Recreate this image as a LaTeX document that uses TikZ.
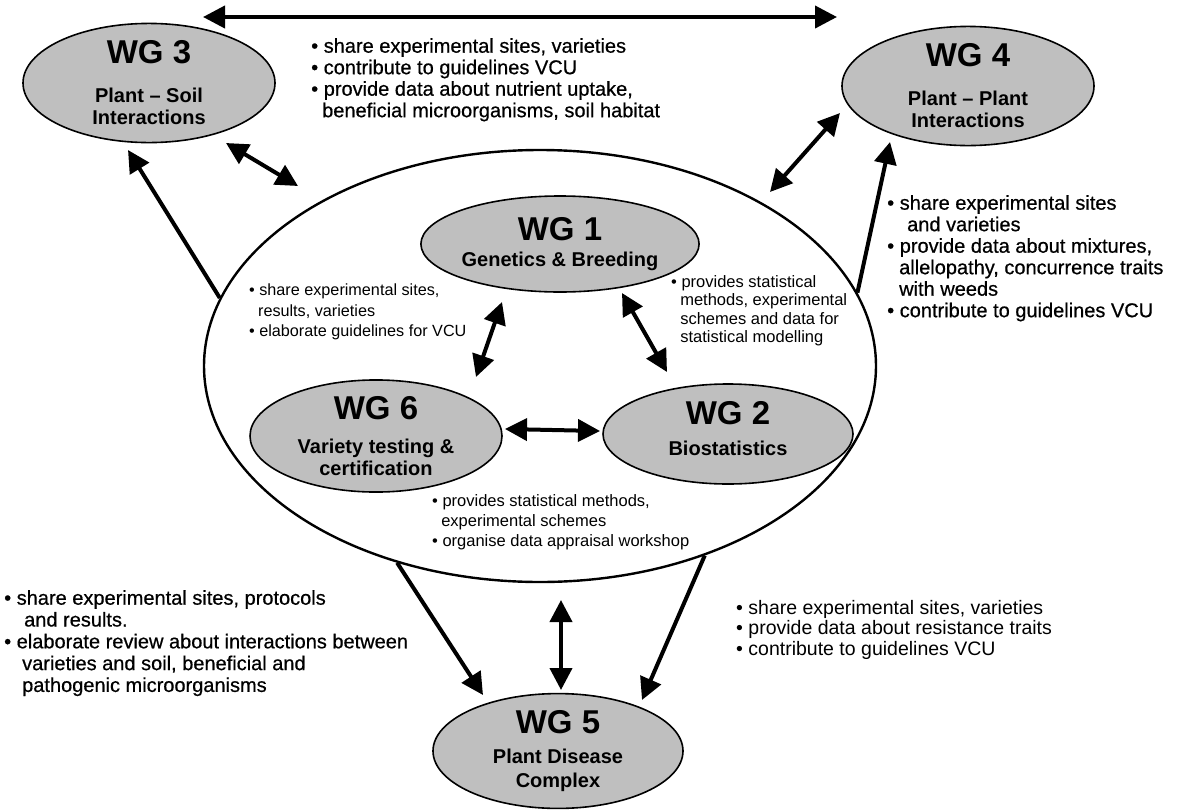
\documentclass[tikz,border=0pt]{standalone}
\usepackage{fontspec}
\setmainfont{Liberation Sans}
\newfontfamily\medfont[FakeBold=0.6]{Liberation Sans}
\usetikzlibrary{shapes.geometric,arrows.meta}
\newcommand\wgtitle[1]{{\fontsize{33}{33}\selectfont\bfseries #1}}
\begin{document}
\begin{tikzpicture}[x=1pt,y=-1pt,
  wg/.style={ellipse,draw=black,line width=1.6pt,fill=black!25,inner sep=0pt,align=center,
    font=\fontsize{20}{22}\selectfont\bfseries},
  bigell/.style={ellipse,draw=black,line width=2.4pt,inner sep=0pt},
  conn/.style={line width=4pt,-{Triangle[length=22pt,width=22pt]}},
  dconn/.style={line width=4pt,{Triangle[length=22pt,width=22pt]}-{Triangle[length=22pt,width=22pt]}},
  txt/.style={anchor=north west,align=left,inner sep=0pt},
  outtxt/.style={txt,font=\medfont\fontsize{20}{21.5}\selectfont},
  intxt/.style={txt,font=\fontsize{16.2}{20.5}\selectfont},
]
\useasboundingbox (0,0) rectangle (1184,809);

% big ellipse
\node[bigell,minimum width=672pt,minimum height=432pt] (big) at (540,366) {};

% working groups
\node[wg,minimum width=252pt,minimum height=112pt] (wg3) at (149,83)
  {\wgtitle{WG 3}\\[17pt]Plant – Soil\\Interactions};
\node[wg,minimum width=252pt,minimum height=114pt] (wg4) at (968,86)
  {\wgtitle{WG 4}\\[17pt]Plant – Plant\\Interactions};
\node[wg,minimum width=254pt,minimum height=96pt] (wg1) at (560,244)
  {\wgtitle{WG 1}\\[4pt]Genetics \& Breeding};
\node[wg,minimum width=252pt,minimum height=98pt] (wg6) at (376,436)
  {\wgtitle{WG 6}\\[12pt]Variety testing \&\\certification};
\node[wg,minimum width=250pt,minimum height=100pt] (wg2) at (728,434)
  {\wgtitle{WG 2}\\[9pt]Biostatistics\rule[-12pt]{0pt}{0pt}};
\node[wg,minimum width=250pt,minimum height=112pt] (wg5) at (558,751)
  {\wgtitle{WG 5}\\[8pt]Plant Disease\\[2pt]Complex};

% free arrow end points
\coordinate (t34a) at (203,17);
\coordinate (t34b) at (837,17);
\coordinate (a3a) at (226,143);
\coordinate (a3b) at (298,186);
\coordinate (s3b) at (128,150);
\coordinate (a4a) at (840,113);
\coordinate (a4b) at (770,192);
\coordinate (s4b) at (890,142);
\coordinate (a16a) at (502,302);
\coordinate (a16b) at (476,377);
\coordinate (a12a) at (622,293);
\coordinate (a12b) at (667,372);
\coordinate (a62a) at (505,429);
\coordinate (a62b) at (600,431);
\coordinate (s5lb) at (483,695);
\coordinate (s5rb) at (642,700);
\coordinate (a5a) at (561,600);
\coordinate (a5b) at (561,690);

\draw[dconn] (t34a) -- (t34b);
\draw[dconn] (a3a) -- (a3b);
\draw[conn] (big.168) -- (s3b);
\draw[dconn] (a4a) -- (a4b);
\draw[conn] (big.13) -- (s4b);
\draw[dconn] (a16a) -- (a16b);
\draw[dconn] (a12a) -- (a12b);
\draw[dconn] (a62a) -- (a62b);
\draw[conn] (big.234) -- (s5lb);
\draw[conn] (big.-49) -- (s5rb);
\draw[dconn] (a5a) -- (a5b);

% texts
\node[outtxt] (ttop) at (311,38) {• share experimental sites, varieties\\• contribute to guidelines VCU\\• provide data about nutrient uptake,\\\hspace*{0.55em}beneficial microorganisms, soil habitat};
\node[outtxt] (tright) at (887,195) {• share experimental sites\\\hspace*{1em}and varieties\\• provide data about mixtures,\\\hspace*{0.6em}allelopathy, concurrence traits\\\hspace*{0.6em}with weeds\\• contribute to guidelines VCU};
\node[outtxt,font=\medfont\fontsize{20}{21.8}\selectfont] (tbl) at (4,590) {• share experimental sites, protocols\\\hspace*{1em}and results.\\• elaborate review about interactions between\\\hspace*{0.9em}varieties and soil, beneficial and\\\hspace*{0.9em}pathogenic microorganisms};
\node[txt,font=\fontsize{19.5}{20.5}\selectfont] (tbr) at (736,600) {• share experimental sites, varieties\\• provide data about resistance traits\\• contribute to guidelines VCU};
\node[intxt] (tin1) at (249,284) {• share experimental sites,\\\hspace*{0.55em}results, varieties\\• elaborate guidelines for VCU};
\node[intxt,font=\fontsize{16.5}{18.5}\selectfont] (tin2) at (671,275) {• provides statistical\\\hspace*{0.55em}methods, experimental\\\hspace*{0.55em}schemes and data for\\\hspace*{0.55em}statistical modelling};
\node[intxt,font=\fontsize{16.5}{20}\selectfont] (tin3) at (432,494) {• provides statistical methods,\\\hspace*{0.55em}experimental schemes\\• organise data appraisal workshop};
\end{tikzpicture}
\end{document}
